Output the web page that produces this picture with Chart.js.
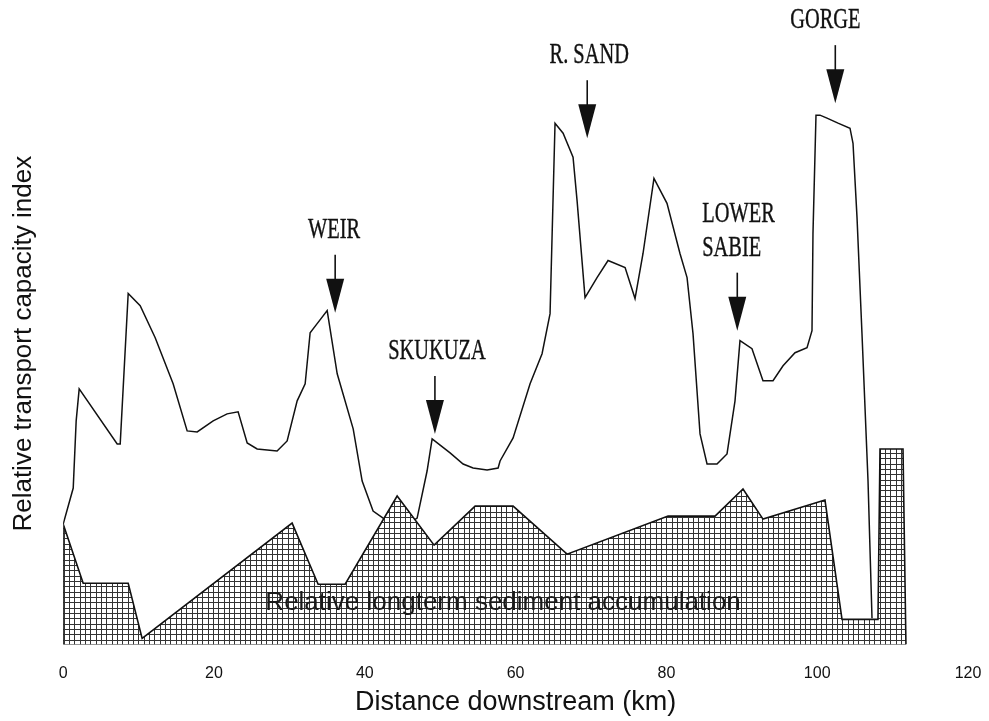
<!DOCTYPE html>
<html>
<head>
<meta charset="utf-8">
<script src="https://cdn.jsdelivr.net/npm/chart.js@4.4.1/dist/chart.umd.min.js"></script>
<style>
  body { margin: 0; background: #fff; }
  #wrap { width: 989px; height: 721px; }
</style>
</head>
<body>
<div id="wrap"><canvas id="profileChart"></canvas></div>
<script>
// transport capacity profile (km downstream, relative index)
const transportKm = [0, 1.33, 1.72, 2.12, 7.16, 7.56, 8.62, 10.21, 12.2, 14.58, 16.44, 17.77, 19.89, 21.74, 23.2,
    24.4, 25.72, 28.37, 29.7, 31.03, 32.09, 32.75, 33.68, 35.01, 36.34, 38.46, 39.65, 41.1, 42.43, 44.68,
    46.94, 48.26, 48.93, 51.31, 53.04, 54.36, 56.22, 57.68, 57.94, 59.67, 61.92, 63.51, 64.57, 65.23, 66.3,
    67.62, 68.15, 69.21, 70.8, 72.26, 74.52, 75.84, 76.9, 78.35, 80.08, 81.8, 82.74, 83.53, 84.46, 85.39,
    86.71, 88.04, 89.1, 89.76, 91.35, 92.81, 94.14, 95.47, 97.06, 98.65, 99.31, 99.44, 99.84, 100.37, 101.3,
    102.76, 104.35, 104.75, 105.28, 105.94, 106.74, 107.27];
const transportIdx = [24.0, 31.2, 44.6, 51.0, 40.0, 40.0, 70.0, 67.6, 61.2, 52.0, 42.6, 42.4, 44.6, 46.0, 46.4,
    40.2, 39.0, 38.6, 40.6, 48.6, 52.0, 62.2, 64.0, 66.6, 54.0, 43.0, 32.6, 26.6, 25.2, 23.0,
    25.2, 34.6, 41.0, 38.2, 36.0, 35.2, 34.8, 35.2, 36.6, 41.2, 52.0, 58.0, 66.0, 104.0, 102.0,
    97.2, 88.6, 69.2, 73.2, 76.6, 75.2, 69.0, 78.0, 93.0, 88.0, 78.0, 73.2, 62.0, 42.0, 36.0,
    36.0, 38.0, 48.6, 60.6, 59.0, 52.6, 52.6, 55.6, 58.2, 59.2, 62.6, 82.0, 105.6, 105.6, 105.0,
    104.0, 103.0, 100.0, 85.2, 62.0, 32.6, 5.2];

// relative longterm sediment accumulation
const sedimentKm = [0, 0, 2.65, 8.62, 10.47, 30.36, 33.81, 37.39, 44.29, 49.19, 54.63, 59.67, 66.83, 80.22,
    86.45, 90.16, 92.81, 101.03, 103.29, 107.4, 108.06, 108.33, 111.38, 111.77];
const sedimentIdx = [0, 24.0, 12.2, 12.2, 1.2, 24.2, 12.0, 12.0, 29.6, 19.8, 27.6, 27.6, 18.0, 25.6,
    25.6, 31.0, 25.0, 28.8, 5.0, 5.0, 5.0, 39.0, 39.0, 0];

const xTicks = [0, 20, 40, 60, 80, 100, 120];

// site markers: label lines, km, index at arrow tip
const sites = [
    { lines: ['WEIR'], km: 36.07, tip: 66.2, dx: -1, align: 'center' },
    { lines: ['SKUKUZA'], km: 49.3, tip: 42.0, dx: 2, align: 'center' },
    { lines: ['R. SAND'], km: 69.5, tip: 101.0, dx: 2, align: 'center' },
    { lines: ['GORGE'], km: 102.4, tip: 108.0, dx: -10, align: 'center' },
    { lines: ['LOWER', 'SABIE'], km: 89.4, tip: 62.6, dx: -35, align: 'left' }
];

function hatch() {
    const c = document.createElement('canvas');
    c.width = 16; c.height = 16;
    const g = c.getContext('2d');
    g.fillStyle = '#fff';
    g.fillRect(0, 0, 16, 16);
    g.strokeStyle = '#333';
    g.lineWidth = 1;
    g.beginPath();
    [0.5, 5.5, 10.5].forEach(p => {
        g.moveTo(p, 0); g.lineTo(p, 16);
        g.moveTo(0, p); g.lineTo(16, p);
    });
    g.stroke();
    return g.createPattern(c, 'repeat');
}

const sitePlugin = {
    id: 'sites',
    afterDatasetsDraw(chart) {
        const ctx = chart.ctx, xs = chart.scales.x, ys = chart.scales.y;
        ctx.save();
        ctx.fillStyle = '#111';
        ctx.strokeStyle = '#111';
        sites.forEach(s => {
            const px = xs.getPixelForValue(s.km);
            const tip = ys.getPixelForValue(s.tip);
            const headTop = tip - 34, shaftTop = headTop - 24;
            ctx.lineWidth = 1.6;
            ctx.beginPath();
            ctx.moveTo(px, shaftTop);
            ctx.lineTo(px, headTop + 2);
            ctx.stroke();
            ctx.beginPath();
            ctx.moveTo(px - 9, headTop);
            ctx.lineTo(px + 9, headTop);
            ctx.lineTo(px, tip);
            ctx.closePath();
            ctx.fill();
            ctx.font = '30px "Liberation Serif", "Times New Roman", serif';
            ctx.textAlign = s.align;
            ctx.textBaseline = 'middle';
            ctx.lineWidth = 0.4;
            const n = s.lines.length;
            s.lines.forEach((t, i) => {
                const cy = shaftTop - 25 - (n - 1 - i) * 34;
                ctx.save();
                ctx.translate(px + s.dx, cy);
                ctx.scale(0.68, 1);
                ctx.fillText(t, 0, 0);
                ctx.strokeText(t, 0, 0);
                ctx.restore();
            });
        });
        // label inside the hatched area
        ctx.font = '26px "Liberation Sans", Arial, sans-serif';
        ctx.textAlign = 'center';
        ctx.textBaseline = 'middle';
        ctx.fillStyle = '#1a1a1a';
        ctx.fillText('Relative longterm sediment accumulation', xs.getPixelForValue(58.34), ys.getPixelForValue(8.2));
        ctx.restore();
    }
};

const ctx = document.getElementById('profileChart').getContext('2d');
const profileChart = new Chart(ctx, {
    type: 'line',
    data: {
        datasets: [{
            label: 'Relative longterm sediment accumulation',
            data: sedimentKm.map((k, i) => ({ x: k, y: sedimentIdx[i] })),
            borderColor: '#111',
            borderWidth: 1.6,
            backgroundColor: hatch(),
            fill: 'origin',
            pointRadius: 0,
            tension: 0,
            order: 0
        }, {
            label: 'Sediment base',
            data: [{ x: sedimentKm[0], y: 0 }, { x: sedimentKm[sedimentKm.length - 1], y: 0 }],
            borderColor: '#111',
            borderWidth: 1.6,
            fill: false,
            pointRadius: 0,
            order: 0
        }, {
            label: 'Relative transport capacity index',
            data: transportKm.map((k, i) => ({ x: k, y: transportIdx[i] })),
            borderColor: '#111',
            borderWidth: 1.5,
            fill: false,
            pointRadius: 0,
            tension: 0,
            order: 1
        }]
    },
    options: {
        responsive: true,
        maintainAspectRatio: false,
        animation: false,
        layout: { padding: { left: 4, right: 21, top: 43, bottom: 0 } },
        plugins: {
            legend: { display: false },
            tooltip: { enabled: false }
        },
        scales: {
            x: {
                type: 'linear',
                min: 0,
                max: 120,
                grid: { display: false, drawTicks: false },
                border: { display: false },
                afterBuildTicks: axis => { axis.ticks = xTicks.map(v => ({ value: v })); },
                afterFit: axis => { axis.paddingLeft = 0; axis.paddingRight = 0; },
                ticks: {
                    padding: 20,
                    maxRotation: 0,
                    color: '#111',
                    font: { family: '"Liberation Sans", Arial, sans-serif', size: 16 }
                },
                title: {
                    display: true,
                    text: 'Distance downstream (km)',
                    color: '#111',
                    padding: { top: -17, bottom: 2 },
                    font: { family: '"Liberation Sans", Arial, sans-serif', size: 27 }
                }
            },
            y: {
                min: 0,
                max: 120,
                grid: { display: false, drawTicks: false },
                border: { display: false },
                ticks: { display: false },
                title: {
                    display: true,
                    text: 'Relative transport capacity index',
                    color: '#111',
                    padding: { top: 4, bottom: 24 },
                    font: { family: '"Liberation Sans", Arial, sans-serif', size: 26 }
                }
            }
        }
    },
    plugins: [sitePlugin]
});
</script>
</body>
</html>
